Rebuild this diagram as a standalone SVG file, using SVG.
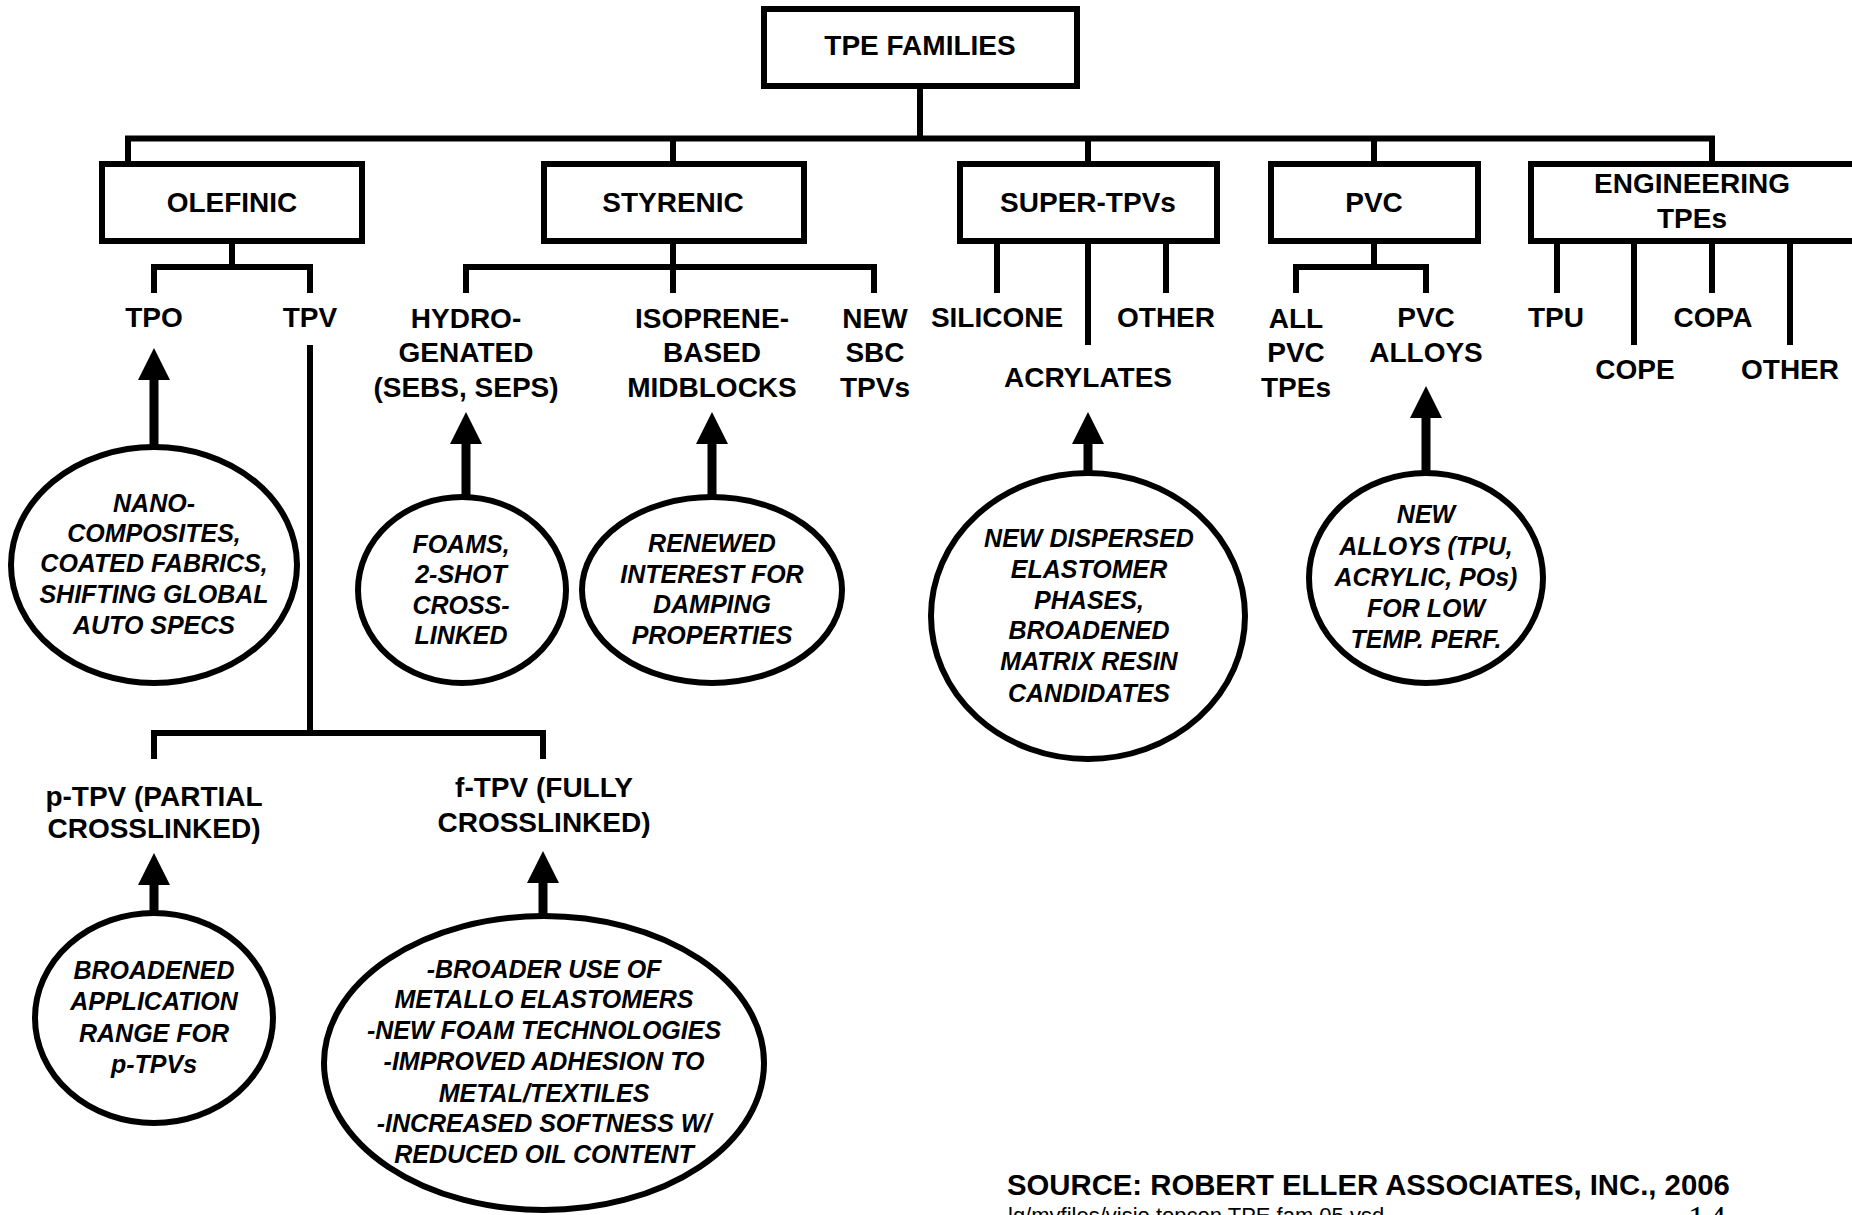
<svg xmlns="http://www.w3.org/2000/svg" width="1852" height="1215" viewBox="0 0 1852 1215">
<defs>
<style>
.box{fill:#fff;stroke:#000;stroke-width:6}
.ell{fill:#fff;stroke:#000;stroke-width:6}
.con{fill:none;stroke:#000;stroke-width:6;stroke-linejoin:miter}
.arr{fill:none;stroke:#000;stroke-width:9;marker-end:url(#ah)}
.lbl{font-family:"Liberation Sans",Arial,sans-serif;font-weight:bold;font-size:28px;text-anchor:middle;fill:#000}
.note{font-family:"Liberation Sans",Arial,sans-serif;font-weight:bold;font-style:italic;font-size:25px;text-anchor:middle;fill:#000}
.src{font-family:"Liberation Sans",Arial,sans-serif;font-weight:bold;font-size:29.3px;fill:#000}
.file{font-family:"Liberation Sans",Arial,sans-serif;font-size:22px;fill:#000}
.pg{font-family:"Liberation Serif","Times New Roman",serif;font-size:34px;letter-spacing:4px;fill:#000}
</style>
<marker id="ah" markerUnits="userSpaceOnUse" markerWidth="34" markerHeight="34" refX="1" refY="16" orient="auto"><path d="M0,0 L32,16 L0,32 Z" fill="#000"/></marker>
</defs>
<rect width="1852" height="1215" fill="#fff"/>

<g id="connectors">
<path class="con" d="M920,86 V138.5"/>
<path class="con" d="M128,164 V138.5 H1712 V164"/>
<path class="con" d="M673,138.5 V164 M1088,138.5 V164 M1374,138.5 V164"/>
<path class="con" d="M232,241 V267"/>
<path class="con" d="M154,293 V267 H310 V293"/>
<path class="con" d="M310,345 V733"/>
<path class="con" d="M154,759 V733 H543 V759"/>
<path class="con" d="M673,241 V293"/>
<path class="con" d="M466,293 V267 H874 V293"/>
<path class="con" d="M997,241 V293 M1088,241 V345 M1166,241 V293"/>
<path class="con" d="M1374,241 V267"/>
<path class="con" d="M1296,293 V267 H1426 V293"/>
<path class="con" d="M1557,241 V293 M1634,241 V345 M1712,241 V293 M1790,241 V345"/>
<path class="arr" d="M154,447 V379"/>
<path class="arr" d="M466,498 V443"/>
<path class="arr" d="M712,498 V443"/>
<path class="arr" d="M1088,473 V443"/>
<path class="arr" d="M1426,473 V417"/>
<path class="arr" d="M154,913 V884"/>
<path class="arr" d="M543,917 V882"/>
</g>

<g id="tpe-families">
<rect class="box" x="764" y="9" width="313" height="77"/>
<text class="lbl" x="920" y="55">TPE FAMILIES</text>
</g>
<g id="olefinic">
<rect class="box" x="102" y="164" width="260" height="77"/>
<text class="lbl" x="232" y="212">OLEFINIC</text>
</g>
<g id="styrenic">
<rect class="box" x="544" y="164" width="260" height="77"/>
<text class="lbl" x="673" y="212">STYRENIC</text>
</g>
<g id="super-tpvs">
<rect class="box" x="960" y="164" width="257" height="77"/>
<text class="lbl" x="1088" y="212">SUPER-TPVs</text>
</g>
<g id="pvc">
<rect class="box" x="1271" y="164" width="207" height="77"/>
<text class="lbl" x="1374" y="212">PVC</text>
</g>
<g id="engineering-tpes">
<rect class="box" x="1531" y="164" width="400" height="77"/>
<text class="lbl" x="1692" y="193">ENGINEERING</text>
<text class="lbl" x="1692" y="228">TPEs</text>
</g>

<g id="tpo"><text class="lbl" x="154" y="327">TPO</text></g>
<g id="tpv"><text class="lbl" x="310" y="327">TPV</text></g>
<g id="hydrogenated">
<text class="lbl" x="466" y="328">HYDRO-</text>
<text class="lbl" x="466" y="362">GENATED</text>
<text class="lbl" x="466" y="397">(SEBS, SEPS)</text>
</g>
<g id="isoprene">
<text class="lbl" x="712" y="328">ISOPRENE-</text>
<text class="lbl" x="712" y="362">BASED</text>
<text class="lbl" x="712" y="397">MIDBLOCKS</text>
</g>
<g id="new-sbc">
<text class="lbl" x="875" y="328">NEW</text>
<text class="lbl" x="875" y="362">SBC</text>
<text class="lbl" x="875" y="397">TPVs</text>
</g>
<g id="silicone"><text class="lbl" x="997" y="327">SILICONE</text></g>
<g id="acrylates"><text class="lbl" x="1088" y="387">ACRYLATES</text></g>
<g id="super-other"><text class="lbl" x="1166" y="327">OTHER</text></g>
<g id="all-pvc">
<text class="lbl" x="1296" y="328">ALL</text>
<text class="lbl" x="1296" y="362">PVC</text>
<text class="lbl" x="1296" y="397">TPEs</text>
</g>
<g id="pvc-alloys">
<text class="lbl" x="1426" y="327">PVC</text>
<text class="lbl" x="1426" y="362">ALLOYS</text>
</g>
<g id="tpu"><text class="lbl" x="1556" y="327">TPU</text></g>
<g id="cope"><text class="lbl" x="1635" y="379">COPE</text></g>
<g id="copa"><text class="lbl" x="1713" y="327">COPA</text></g>
<g id="eng-other"><text class="lbl" x="1790" y="379">OTHER</text></g>
<g id="p-tpv">
<text class="lbl" x="154" y="806">p-TPV (PARTIAL</text>
<text class="lbl" x="154" y="838">CROSSLINKED)</text>
</g>
<g id="f-tpv">
<text class="lbl" x="544" y="797">f-TPV (FULLY</text>
<text class="lbl" x="544" y="832">CROSSLINKED)</text>
</g>

<g id="note-tpo">
<ellipse class="ell" cx="154" cy="565" rx="143" ry="118"/>
<text class="note" x="154" y="512">NANO-</text>
<text class="note" x="154" y="542">COMPOSITES,</text>
<text class="note" x="154" y="572">COATED FABRICS,</text>
<text class="note" x="154" y="603">SHIFTING GLOBAL</text>
<text class="note" x="154" y="634">AUTO SPECS</text>
</g>
<g id="note-foams">
<ellipse class="ell" cx="462" cy="590" rx="104" ry="93"/>
<text class="note" x="461" y="553">FOAMS,</text>
<text class="note" x="461" y="583">2-SHOT</text>
<text class="note" x="461" y="614">CROSS-</text>
<text class="note" x="461" y="644">LINKED</text>
</g>
<g id="note-renewed">
<ellipse class="ell" cx="712" cy="590" rx="130" ry="93"/>
<text class="note" x="712" y="552">RENEWED</text>
<text class="note" x="712" y="583">INTEREST FOR</text>
<text class="note" x="712" y="613">DAMPING</text>
<text class="note" x="712" y="644">PROPERTIES</text>
</g>
<g id="note-dispersed">
<ellipse class="ell" cx="1088" cy="616" rx="157" ry="143"/>
<text class="note" x="1089" y="547">NEW DISPERSED</text>
<text class="note" x="1089" y="578">ELASTOMER</text>
<text class="note" x="1089" y="609">PHASES,</text>
<text class="note" x="1089" y="639">BROADENED</text>
<text class="note" x="1089" y="670">MATRIX RESIN</text>
<text class="note" x="1089" y="702">CANDIDATES</text>
</g>
<g id="note-alloys">
<ellipse class="ell" cx="1426" cy="578" rx="117" ry="105"/>
<text class="note" x="1426" y="523">NEW</text>
<text class="note" x="1426" y="555">ALLOYS (TPU,</text>
<text class="note" x="1426" y="586">ACRYLIC, POs)</text>
<text class="note" x="1426" y="617">FOR LOW</text>
<text class="note" x="1426" y="648">TEMP. PERF.</text>
</g>
<g id="note-ptpv">
<ellipse class="ell" cx="154" cy="1018" rx="119" ry="105"/>
<text class="note" x="154" y="979">BROADENED</text>
<text class="note" x="154" y="1010">APPLICATION</text>
<text class="note" x="154" y="1042">RANGE FOR</text>
<text class="note" x="154" y="1073">p-TPVs</text>
</g>
<g id="note-ftpv">
<ellipse class="ell" cx="544" cy="1063" rx="220" ry="147"/>
<text class="note" x="544" y="978">-BROADER USE OF</text>
<text class="note" x="544" y="1008">METALLO ELASTOMERS</text>
<text class="note" x="544" y="1039">-NEW FOAM TECHNOLOGIES</text>
<text class="note" x="544" y="1070">-IMPROVED ADHESION TO</text>
<text class="note" x="544" y="1102">METAL/TEXTILES</text>
<text class="note" x="544" y="1132">-INCREASED SOFTNESS W/</text>
<text class="note" x="544" y="1163">REDUCED OIL CONTENT</text>
</g>

<g id="footer">
<text class="src" x="1007" y="1195">SOURCE:  ROBERT ELLER ASSOCIATES, INC., 2006</text>
<text class="file" x="1008" y="1223">lg/myfiles/visio topcon TPE fam 05.vsd</text>
<text class="pg" x="1688" y="1229">14</text>
</g>
</svg>
